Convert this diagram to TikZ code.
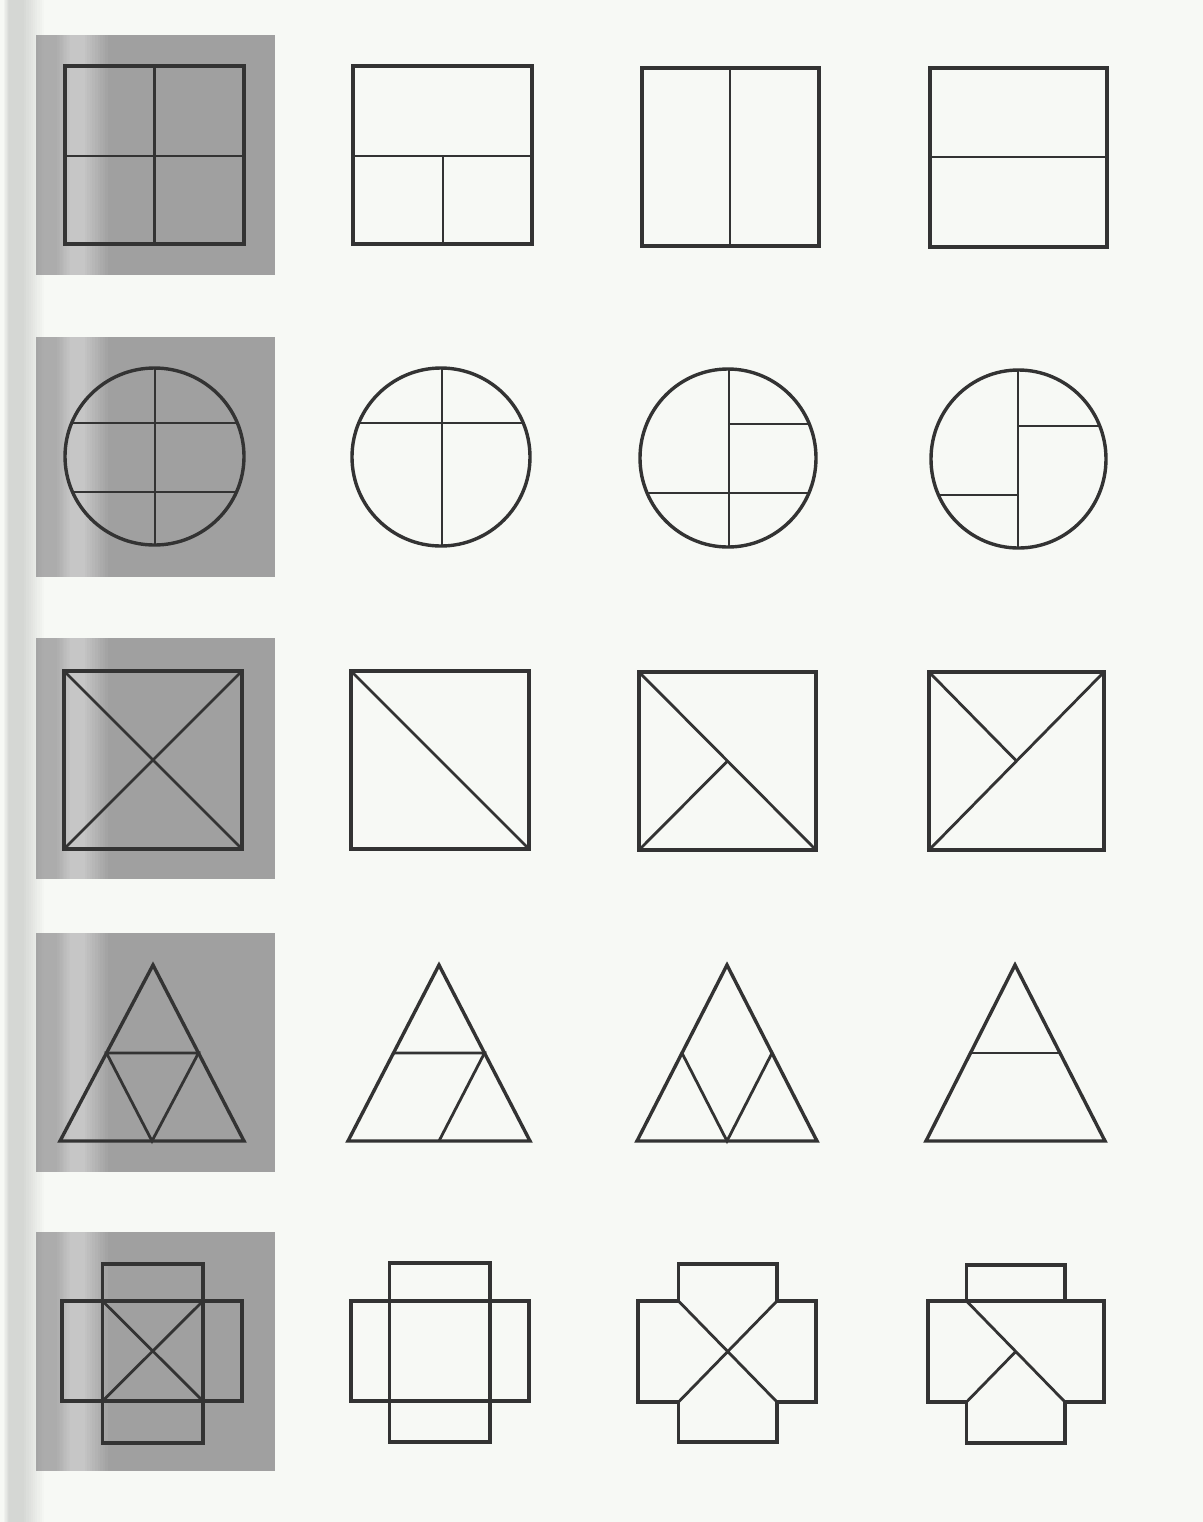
\documentclass[tikz,border=0pt]{standalone}
\usetikzlibrary{calc}
\definecolor{paper}{HTML}{F7F9F5}
\definecolor{edgegray}{HTML}{D5D7D4}
\definecolor{panelgray}{HTML}{A0A0A0}
\definecolor{panelband}{HTML}{ACACAC}
\definecolor{panellight}{HTML}{C6C6C6}
\definecolor{ink}{HTML}{333333}

% a soft vertical band fading from #5 (left) to #6 (right)
\newcommand{\bandfade}[6]{%
  \foreach \k in {0,...,9} {
    \pgfmathtruncatemacro{\mixpct}{100-\k*10}
    \fill[#5!\mixpct!#6] ({#1+(#2-#1)*\k/10},#3) rectangle ({#1+(#2-#1)*(\k+1)/10+0.4},#4);
  }}

\begin{document}
\begin{tikzpicture}[x=0.5pt, y=-0.5pt,
    outline/.style={draw=ink, line width=1.7pt, line join=miter},
    divider/.style={draw=ink, line width=1.1pt},
    diag/.style={draw=ink, line width=1.4pt}
  ]
  \fill[paper] (0,0) rectangle (1203,1522);
  \useasboundingbox (0,0) rectangle (1203,1522);
  \bandfade{3}{9}{0}{1522}{paper}{edgegray}
  \fill[edgegray] (9,0) rectangle (22,1522);
  \bandfade{22}{44}{0}{1522}{edgegray}{paper}

  % grey panels of the first column
  \foreach \ytop/\ybot in {35/275, 337/577, 638/879, 933/1172, 1232/1471} {
    \fill[panelgray] (36,\ytop) rectangle (275,\ybot);
    \bandfade{36}{44}{\ytop}{\ybot}{panelgray!60!panelband}{panelband}
    \fill[panelband] (44,\ytop) rectangle (56,\ybot);
    \bandfade{56}{70}{\ytop}{\ybot}{panelband}{panellight}
    \fill[panellight] (70,\ytop) rectangle (82,\ybot);
    \bandfade{82}{108}{\ytop}{\ybot}{panellight}{panelgray}
  }

  % row 1: squares
  \draw[outline] (65,66) rectangle (244,244);
  \draw[divider] (154.5,66) -- (154.5,244) (65,156) -- (244,156);
  \draw[outline] (353,66) rectangle (532,244);
  \draw[divider] (353,156) -- (532,156) (443,156) -- (443,244);
  \draw[outline] (642,68) rectangle (819,246);
  \draw[divider] (730,68) -- (730,246);
  \draw[outline] (930,68) rectangle (1107,247);
  \draw[divider] (930,157) -- (1107,157);

  % row 2: circles
  \begin{scope}
    \clip (154.5,456.5) ellipse [x radius=89.5, y radius=88.5];
    \draw[divider] (50,423) -- (260,423) (50,492) -- (260,492) (155,360) -- (155,555);
  \end{scope}
  \draw[outline] (154.5,456.5) ellipse [x radius=89.5, y radius=88.5];
  \begin{scope}
    \clip (441,457) ellipse [x radius=89, y radius=89];
    \draw[divider] (340,423) -- (540,423) (442,360) -- (442,555);
  \end{scope}
  \draw[outline] (441,457) ellipse [x radius=89, y radius=89];
  \begin{scope}
    \clip (728,458) ellipse [x radius=88, y radius=89];
    \draw[divider] (729,360) -- (729,555) (729,424) -- (830,424) (630,493) -- (830,493);
  \end{scope}
  \draw[outline] (728,458) ellipse [x radius=88, y radius=89];
  \begin{scope}
    \clip (1018.5,459) ellipse [x radius=87.5, y radius=89];
    \draw[divider] (1018,360) -- (1018,555) (1018,426) -- (1120,426) (920,495) -- (1018,495);
  \end{scope}
  \draw[outline] (1018.5,459) ellipse [x radius=87.5, y radius=89];

  % row 3: squares with diagonals
  \draw[outline] (64,671) rectangle (242,849);
  \draw[diag] (64,671) -- (242,849) (64,849) -- (242,671);
  \draw[outline] (351,671) rectangle (529,849);
  \draw[diag] (351,671) -- (529,849);
  \draw[outline] (639,672) rectangle (816,850);
  \draw[diag] (639,672) -- (816,850) (639,850) -- (727.5,761);
  \draw[outline] (929,672) rectangle (1104,850);
  \draw[diag] (929,850) -- (1104,672) (929,672) -- (1016.5,761);

  % row 4: triangles
  \coordinate (ta1) at (153,965);  \coordinate (tl1) at (60,1141);  \coordinate (tr1) at (244,1141);
  \coordinate (ta2) at (439,965);  \coordinate (tl2) at (348,1141); \coordinate (tr2) at (530,1141);
  \coordinate (ta3) at (727,965);  \coordinate (tl3) at (637,1141); \coordinate (tr3) at (817,1141);
  \coordinate (ta4) at (1015,965); \coordinate (tl4) at (926,1141); \coordinate (tr4) at (1105,1141);
  \foreach \i in {1,...,4} {
    \draw[outline] (ta\i) -- (tl\i) -- (tr\i) -- cycle;
    \coordinate (ml\i) at ($(ta\i)!0.5!(tl\i)$);
    \coordinate (mr\i) at ($(ta\i)!0.5!(tr\i)$);
    \coordinate (mb\i) at ($(tl\i)!0.5!(tr\i)$);
  }
  \draw[diag] (ml1) -- (mr1) -- (mb1) -- cycle;
  \draw[diag] (ml2) -- (mr2) -- (mb2);
  \draw[diag] (ml3) -- (mb3) -- (mr3);
  \draw[diag] (ml4) -- (mr4);

  % row 5: crosses of tabs
  \draw[outline] (102.5,1301) rectangle (203,1401)
    (102.5,1264) rectangle (203,1301) (102.5,1401) rectangle (203,1443)
    (62,1301) rectangle (102.5,1401) (203,1301) rectangle (242,1401);
  \draw[diag] (102.5,1301) -- (203,1401) (102.5,1401) -- (203,1301);
  \draw[outline] (389.5,1301) rectangle (490,1401)
    (389.5,1263) rectangle (490,1301) (389.5,1401) rectangle (490,1442)
    (351,1301) rectangle (389.5,1401) (490,1301) rectangle (529,1401);
  \draw[outline] (678.5,1264) -- (777,1264) -- (777,1301) -- (816,1301) -- (816,1402)
    -- (777,1402) -- (777,1442) -- (678.5,1442) -- (678.5,1402) -- (638,1402)
    -- (638,1301) -- (678.5,1301) -- cycle;
  \draw[diag] (678.5,1301) -- (777,1402) (777,1301) -- (678.5,1402);
  \draw[outline] (966.5,1265) -- (1065,1265) -- (1065,1301) -- (1104,1301) -- (1104,1402)
    -- (1065,1402) -- (1065,1443) -- (966.5,1443) -- (966.5,1402) -- (928,1402)
    -- (928,1301) -- (966.5,1301) -- cycle;
  \draw[outline] (966.5,1301) -- (1065,1301);
  \draw[diag] (966.5,1301) -- (1065,1402) (966.5,1402) -- (1015.75,1351.5);
\end{tikzpicture}
\end{document}
